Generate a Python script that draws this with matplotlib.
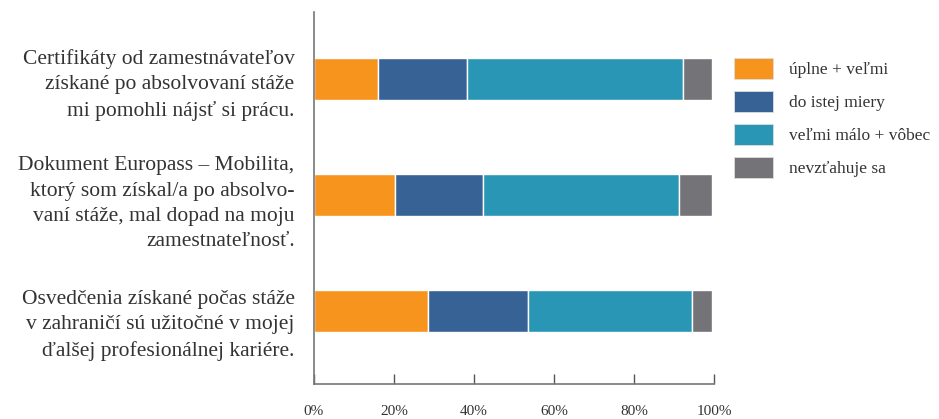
import matplotlib.pyplot as plt
from matplotlib.patches import Patch

# data (percent)
kategorie = [
    "Certifikáty od zamestnávateľov\nzískané po absolvovaní stáže\nmi pomohli nájsť si prácu.",
    "Dokument Europass – Mobilita,\nktorý som získal/a po absolvo-\nvaní stáže, mal dopad na moju\nzamestnateľnosť.",
    "Osvedčenia získané počas stáže\nv zahraničí sú užitočné v mojej\nďalšej profesionálnej kariére.",
]
uplne_velmi = [16.1, 20.3, 28.5]
do_istej_miery = [22.1, 22.0, 25.1]
velmi_malo_vobec = [54.1, 49.0, 40.8]
nevztahuje_sa = [7.1, 8.2, 5.1]

nazvy = ["úplne + veľmi", "do istej miery", "veľmi málo + vôbec", "nevzťahuje sa"]
farby = ["#F7941D", "#376295", "#2A96B5", "#737378"]
tick_labels = ["0%", "20%", "40%", "60%", "80%", "100%"]

plt.rcParams['font.family'] = ['Liberation Serif', 'DejaVu Serif']

fig = plt.figure(figsize=(9.39, 4.19), dpi=100)
ax = fig.add_axes([314 / 939, 35 / 419, 400 / 939, 372 / 419])

pozicie = list(range(len(kategorie)))
vlavo = [0.0] * len(kategorie)
for hodnoty, farba in zip([uplne_velmi, do_istej_miery, velmi_malo_vobec, nevztahuje_sa], farby):
    ax.barh(pozicie, hodnoty, left=vlavo, height=0.36, color=farba,
            edgecolor="white", linewidth=1.0)
    vlavo = [a + b for a, b in zip(vlavo, hodnoty)]

ax.set_xlim(0, 100)
ax.set_ylim(2.63, -0.58)
ax.set_xticks([0, 20, 40, 60, 80, 100])
ax.set_xticklabels(tick_labels, fontsize=11, color="#333333")
ax.tick_params(axis="x", direction="in", length=7, width=1, color="#555555", pad=15)

# popisky su v originali mierne posunute nadol voci pruhom
posun = [0.0, 0.025, 0.075]
ax.set_yticks([p + o for p, o in zip(pozicie, posun)])
ax.set_yticklabels(kategorie, fontsize=15.5, color="#333333", linespacing=1.46)
ax.tick_params(axis="y", length=0, pad=14)

for s in ["top", "right"]:
    ax.spines[s].set_visible(False)
for s in ["left", "bottom"]:
    ax.spines[s].set_color("#777777")
    ax.spines[s].set_linewidth(1.2)

handles = [Patch(facecolor=f, edgecolor="#dddddd", linewidth=0.6) for f in farby]
fig.legend(handles, nazvy, loc="upper left", bbox_to_anchor=(718 / 939, 1 - 42 / 419),
           frameon=False, fontsize=12.5, handlelength=2.25, handleheight=1.5,
           handletextpad=0.95, labelspacing=0.68, labelcolor="#333333")

fig.savefig("out.png", dpi=100)
